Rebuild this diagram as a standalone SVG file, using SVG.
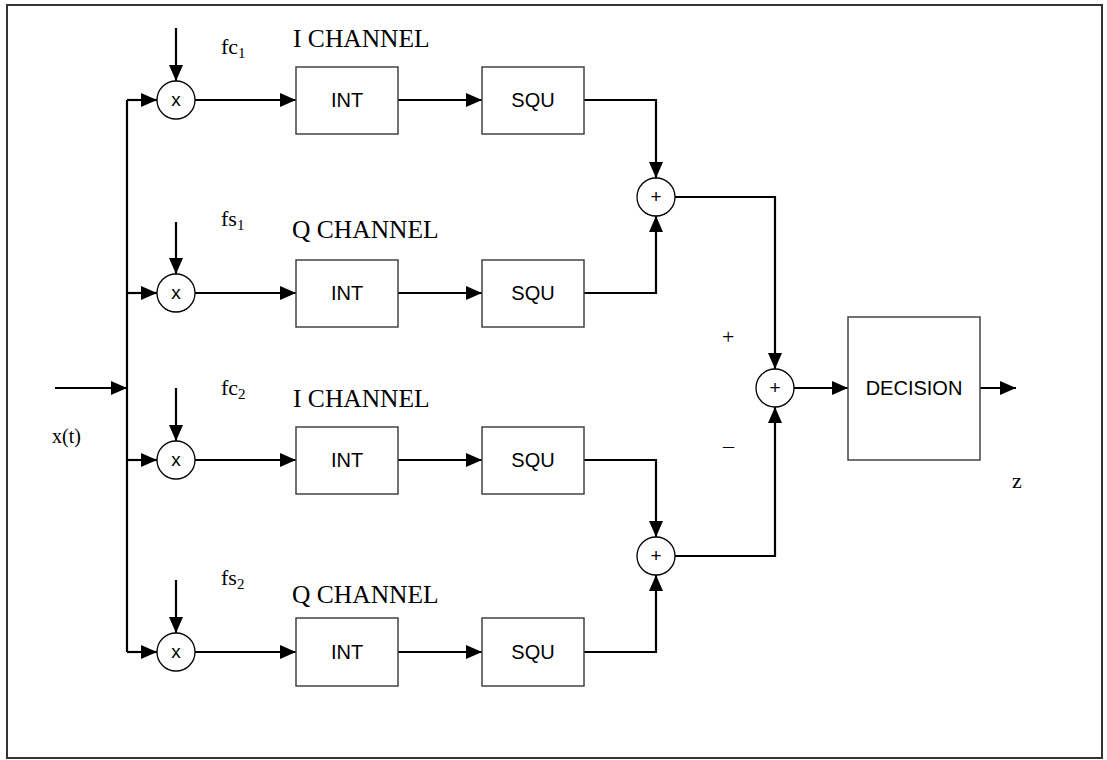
<svg xmlns="http://www.w3.org/2000/svg" width="1107" height="760" viewBox="0 0 1107 760">
<style>
.c{fill:none;stroke:#000;stroke-width:2.2}
.a{marker-end:url(#ah)}
.box{fill:#fff;stroke:#444;stroke-width:1.5}
.circ{fill:#fff;stroke:#000;stroke-width:1.3}
.bt{font-family:"Liberation Sans",Arial,sans-serif;font-size:20px;text-anchor:middle;fill:#000}
.ct{font-family:"Liberation Sans",Arial,sans-serif;font-size:19px;text-anchor:middle;fill:#000}
.lb{font-family:"Liberation Serif","Times New Roman",serif;font-size:25.5px;fill:#000}
.fl{font-family:"Liberation Serif","Times New Roman",serif;font-size:22px;fill:#000}
.sb{font-size:15px}
</style>
<defs>
<marker id="ah" viewBox="0 0 16 14" markerWidth="16" markerHeight="14" refX="16" refY="7" orient="auto" markerUnits="userSpaceOnUse">
<path d="M0,0 L16,7 L0,14 z" fill="#000"/>
</marker>
</defs>
<rect x="7" y="5" width="1095" height="753" fill="#fff" stroke="#333" stroke-width="2"/>
<g id="connectors">
<path class="c a" d="M55,388 H127"/>
<path class="c" d="M127,100 V652"/>
<path class="c a" d="M127,100 H157"/>
<path class="c a" d="M127,293 H157"/>
<path class="c a" d="M127,460 H157"/>
<path class="c a" d="M127,652 H157"/>
<path class="c a" d="M176,28 V81"/>
<path class="c a" d="M176,222 V274"/>
<path class="c a" d="M176,388 V441"/>
<path class="c a" d="M176,580 V633"/>
<path class="c a" d="M195,100 H296"/>
<path class="c a" d="M195,293 H296"/>
<path class="c a" d="M195,460 H296"/>
<path class="c a" d="M195,652 H296"/>
<path class="c a" d="M398,100 H482"/>
<path class="c a" d="M398,293 H482"/>
<path class="c a" d="M398,460 H482"/>
<path class="c a" d="M398,652 H482"/>
<path class="c a" d="M584,100 H656 V178"/>
<path class="c a" d="M584,293 H656 V216"/>
<path class="c a" d="M584,460 H656 V537"/>
<path class="c a" d="M584,652 H656 V575"/>
<path class="c a" d="M675,197 H775 V369"/>
<path class="c a" d="M675,556 H775 V407"/>
<path class="c a" d="M794,388 H848"/>
<path class="c a" d="M980,388 H1016"/>
</g>
<g id="mult1"><circle class="circ" cx="176" cy="100" r="19"/><text class="ct" x="176" y="106">x</text></g>
<g id="mult2"><circle class="circ" cx="176" cy="293" r="19"/><text class="ct" x="176" y="299">x</text></g>
<g id="mult3"><circle class="circ" cx="176" cy="460" r="19"/><text class="ct" x="176" y="466">x</text></g>
<g id="mult4"><circle class="circ" cx="176" cy="652" r="19"/><text class="ct" x="176" y="658">x</text></g>
<g id="int1"><rect class="box" x="296" y="67" width="102" height="67"/><text class="bt" x="347" y="107">INT</text></g>
<g id="int2"><rect class="box" x="296" y="260" width="102" height="67"/><text class="bt" x="347" y="300">INT</text></g>
<g id="int3"><rect class="box" x="296" y="427" width="102" height="67"/><text class="bt" x="347" y="467">INT</text></g>
<g id="int4"><rect class="box" x="296" y="618" width="102" height="68"/><text class="bt" x="347" y="659">INT</text></g>
<g id="squ1"><rect class="box" x="482" y="67" width="102" height="67"/><text class="bt" x="533" y="107">SQU</text></g>
<g id="squ2"><rect class="box" x="482" y="260" width="102" height="67"/><text class="bt" x="533" y="300">SQU</text></g>
<g id="squ3"><rect class="box" x="482" y="427" width="102" height="67"/><text class="bt" x="533" y="467">SQU</text></g>
<g id="squ4"><rect class="box" x="482" y="618" width="102" height="68"/><text class="bt" x="533" y="659">SQU</text></g>
<g id="sum1"><circle class="circ" cx="656" cy="197" r="19"/><text class="ct" x="656" y="203">+</text></g>
<g id="sum2"><circle class="circ" cx="656" cy="556" r="19"/><text class="ct" x="656" y="562">+</text></g>
<g id="sum3"><circle class="circ" cx="775" cy="388" r="19"/><text class="ct" x="775" y="394">+</text></g>
<g id="decision"><rect class="box" x="848" y="317" width="132" height="143"/><text class="bt" x="914" y="395">DECISION</text></g>
<g id="labels">
<text class="lb" x="293" y="47">I CHANNEL</text>
<text class="lb" x="292" y="238">Q CHANNEL</text>
<text class="lb" x="293" y="407">I CHANNEL</text>
<text class="lb" x="292" y="603">Q CHANNEL</text>
<text class="fl" x="221" y="54">fc<tspan class="sb" dy="4">1</tspan></text>
<text class="fl" x="221" y="226">fs<tspan class="sb" dy="4">1</tspan></text>
<text class="fl" x="221" y="395">fc<tspan class="sb" dy="4">2</tspan></text>
<text class="fl" x="221" y="585">fs<tspan class="sb" dy="4">2</tspan></text>
<text class="fl" x="52" y="443" style="font-size:20px">x(t)</text>
<text class="fl" x="1012" y="488">z</text>
<text class="fl" x="722" y="344">+</text>
<text class="fl" x="723" y="453">–</text>
</g>
</svg>
